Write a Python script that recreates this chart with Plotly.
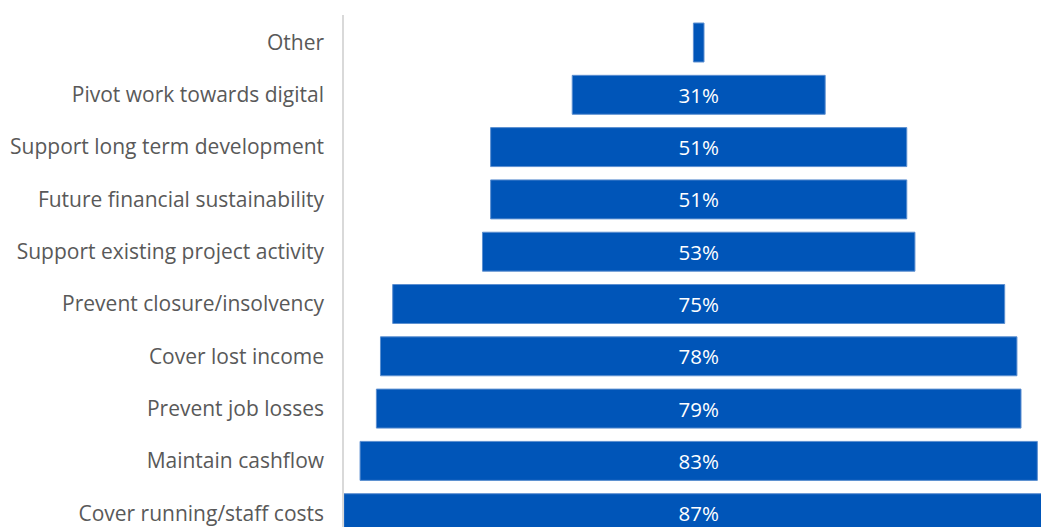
import plotly.graph_objects as go

# Reasons for funding, top to bottom, with share of respondents (%)
reasons = [
    "Other",
    "Pivot work towards digital",
    "Support long term development",
    "Future financial sustainability",
    "Support existing project activity",
    "Prevent closure/insolvency",
    "Cover lost income",
    "Prevent job losses",
    "Maintain cashflow",
    "Cover running/staff costs",
]
shares = [1.3, 31, 51, 51, 53, 75, 78, 79, 83, 87]
# "Other" is too narrow to carry its own label
labels = ["" if v < 5 else f"{v:g}%" for v in shares]

BLUE = "#0055B8"
FONT = "'Open Sans', Lato, sans-serif"

fig = go.Figure(
    go.Funnel(
        y=reasons,
        x=shares,
        text=labels,
        textinfo="text",
        textposition="inside",
        insidetextanchor="middle",
        textfont=dict(family=FONT, size=20.5, color="white"),
        marker=dict(color=BLUE, line=dict(color="#5C8FD0", width=1)),
        connector=dict(visible=False),
        hoverinfo="y+x",
    )
)

fig.update_layout(
    width=1041,
    height=527,
    margin=dict(l=344, r=0, t=15, b=0),
    paper_bgcolor="white",
    plot_bgcolor="white",
    showlegend=False,
    funnelgap=0.255,
    font=dict(family=FONT, color="#595959", size=19),
)
fig.update_xaxes(
    range=[-43.47, 41.95],
    showgrid=False,
    zeroline=False,
    showticklabels=False,
    showline=False,
)
fig.update_yaxes(
    range=[9.264, -0.526],
    autorange=False,
    showgrid=False,
    zeroline=False,
    showline=True,
    linecolor="#D9D9D9",
    linewidth=1.5,
    ticks="",
    ticklabelstandoff=14,
    tickfont=dict(family=FONT, size=21, color="#595959"),
)

fig.write_html("out.html")
